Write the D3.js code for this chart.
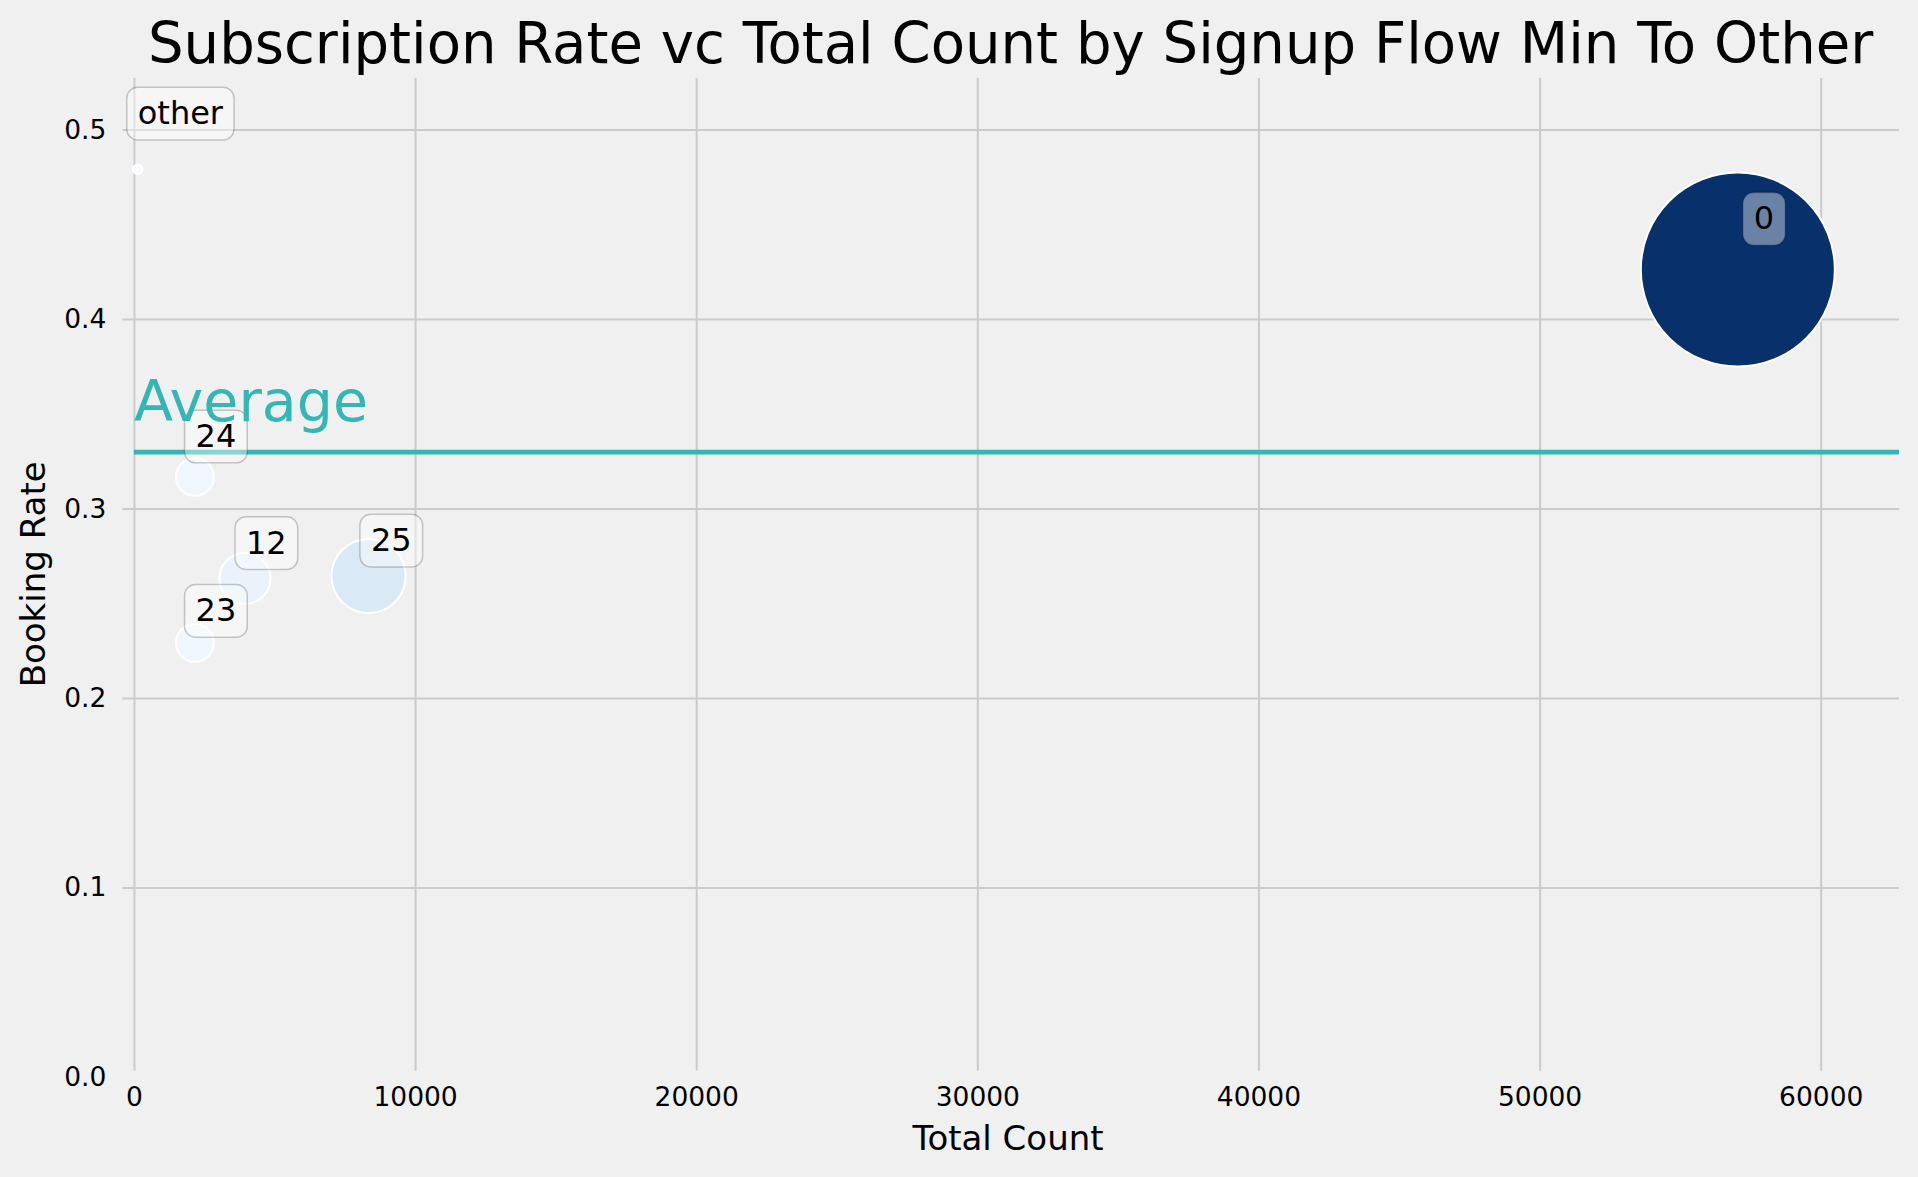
<!DOCTYPE html>
<html>
<head>
<meta charset="utf-8">
<script src="https://cdn.jsdelivr.net/npm/d3@7"></script>
<style>
  body { margin: 0; background: #f0f0f0; }
  svg { display: block; font-family: "DejaVu Sans", sans-serif; }
</style>
</head>
<body>
<svg id="chart" width="1918" height="1177"></svg>
<script>
// signup flows (labels), total count and booking rate per flow
var flows = ["other", "24", "12", "25", "23", "0"];
var totalCounts = [135, 2169, 3947, 8346, 2169, 57052];
var bookingRates = [0.479, 0.3167, 0.2631, 0.2644, 0.2291, 0.4261];

var xTicks = [0, 10000, 20000, 30000, 40000, 50000, 60000];
var yTicks = [0.0, 0.1, 0.2, 0.3, 0.4, 0.5];

// plot area (window.top is reserved, so no plain "top")
var plotLeft = 122.3, plotRight = 1899, plotTop = 78, plotBottom = 1070.7;

var svg = d3.select("#chart");
svg.append("rect").attr("width", 1918).attr("height", 1177).attr("fill", "#f0f0f0");

var x = d3.scaleLinear().domain([-414, 62785]).range([plotLeft, plotRight]);
var y = d3.scaleLinear().domain([0.00332, 0.5272]).range([plotBottom, plotTop]);
var r = d3.scaleSqrt().domain([0, d3.max(totalCounts)]).range([0, 97]);
var color = d3.scaleSequential(d3.interpolateBlues)
    .domain([d3.min(totalCounts), d3.max(totalCounts)]);

var data = flows.map((f, i) => ({flow: f, count: totalCounts[i], rate: bookingRates[i]}));
var avg = d3.mean(bookingRates);

// grid
var xGrid = svg.append("g")
    .attr("transform", "translate(0," + plotBottom + ")")
    .call(d3.axisBottom(x).tickValues(xTicks).tickSize(-(plotBottom - plotTop)).tickFormat(""));
var yGrid = svg.append("g")
    .attr("transform", "translate(" + plotLeft + ",0)")
    .call(d3.axisLeft(y).tickValues(yTicks.filter(v => v >= y.domain()[0]))
        .tickSize(-(plotRight - plotLeft)).tickFormat(""));
[xGrid, yGrid].forEach(g => {
    g.select(".domain").remove();
    g.selectAll("line").attr("stroke", "#cbcbcb").attr("stroke-width", 2);
});

// tick labels
var xAxis = svg.append("g")
    .attr("transform", "translate(0," + plotBottom + ")")
    .call(d3.axisBottom(x).tickValues(xTicks).tickSize(0).tickPadding(16).tickFormat(d3.format("d")));
var yAxis = svg.append("g")
    .attr("transform", "translate(" + plotLeft + ",0)")
    .call(d3.axisLeft(y).tickValues(yTicks).tickSize(0).tickPadding(16).tickFormat(d3.format(".1f")));
[xAxis, yAxis].forEach(g => {
    g.select(".domain").remove();
    g.selectAll("text").attr("font-size", 26.5).attr("fill", "#000")
        .attr("font-family", "DejaVu Sans");
});

// bubbles
svg.append("g").selectAll("circle")
    .data(data)
    .enter()
    .append("circle")
    .attr("cx", d => x(d.count))
    .attr("cy", d => y(d.rate))
    .attr("r", d => r(d.count))
    .attr("fill", d => color(d.count))
    .attr("stroke", "#fff")
    .attr("stroke-width", 2);

// average line
svg.append("line")
    .attr("x1", x(0)).attr("x2", plotRight)
    .attr("y1", y(avg)).attr("y2", y(avg))
    .attr("stroke", "#32b6b6")
    .attr("stroke-width", 4.7);

// labels with rounded boxes
var labels = svg.append("g").selectAll("g")
    .data(data)
    .enter()
    .append("g");

labels.append("text")
    .attr("x", d => x(d.count * 1.01))
    .attr("y", d => y(d.rate * 1.05))
    .attr("font-size", 32)
    .attr("fill", "#000")
    .text(d => d.flow);

labels.each(function () {
    var g = d3.select(this);
    var t = g.select("text");
    var w = t.node().getComputedTextLength();
    var tx = +t.attr("x"), ty = +t.attr("y");
    g.insert("rect", "text")
        .attr("x", tx - 11)
        .attr("y", ty - 36.7)
        .attr("width", w + 22)
        .attr("height", 52.7)
        .attr("rx", 11)
        .attr("fill", "#fff")
        .attr("fill-opacity", 0.4)
        .attr("stroke", "#000")
        .attr("stroke-opacity", 0.2)
        .attr("stroke-width", 1.5);
});

svg.append("text")
    .attr("x", x(0))
    .attr("y", y(avg * 1.05))
    .attr("font-size", 57)
    .attr("fill", "#32b6b6")
    .text("Average");

// title and axis labels
svg.append("text")
    .attr("x", (plotLeft + plotRight) / 2)
    .attr("y", 62.7)
    .attr("text-anchor", "middle")
    .attr("font-size", 56.1)
    .text("Subscription Rate vc Total Count by Signup Flow Min To Other");

svg.append("text")
    .attr("x", 1008)
    .attr("y", 1150)
    .attr("text-anchor", "middle")
    .attr("font-size", 34)
    .text("Total Count");

svg.append("text")
    .attr("transform", "translate(45," + (plotTop + plotBottom) / 2 + ") rotate(-90)")
    .attr("text-anchor", "middle")
    .attr("font-size", 34)
    .text("Booking Rate");
</script>
</body>
</html>
